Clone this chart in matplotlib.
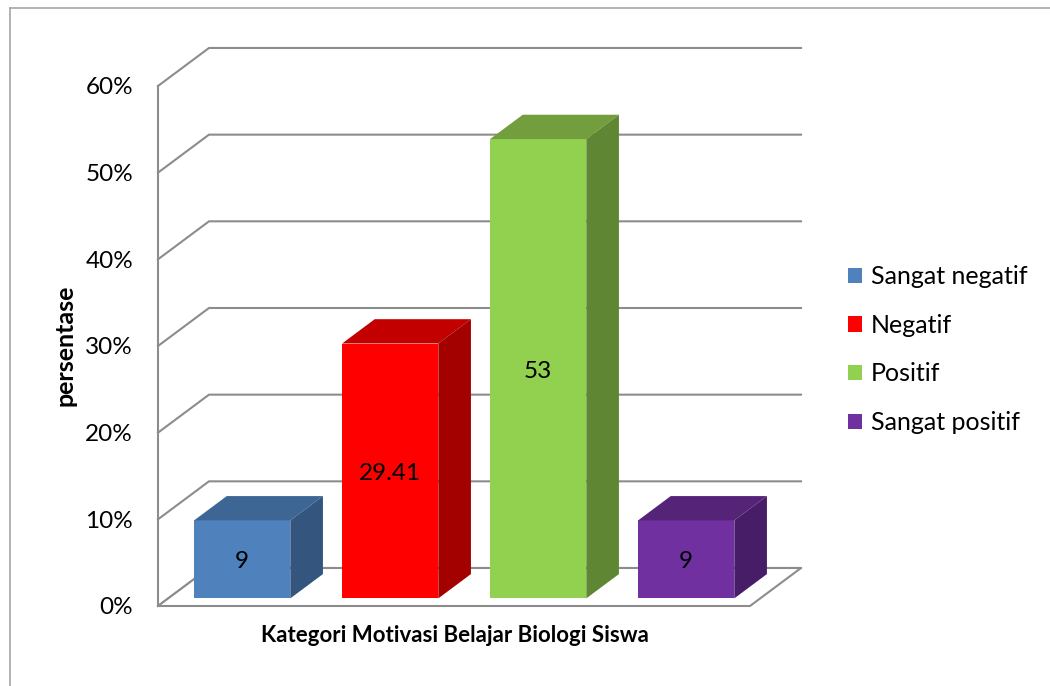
import matplotlib
matplotlib.use('Agg')
import matplotlib.pyplot as plt
from matplotlib.patches import Polygon, Patch
from matplotlib.lines import Line2D

# ---------------- data ----------------
categories = ['Sangat negatif', 'Negatif', 'Positif', 'Sangat positif']
values = [9, 29.41, 53, 9]
value_labels = ['9', '29.41', '53', '9']
yticks = [0, 10, 20, 30, 40, 50, 60]
ytick_labels = ['0%', '10%', '20%', '30%', '40%', '50%', '60%']
x_title = 'Kategori Motivasi Belajar Biologi Siswa'
y_title = 'persentase'

front_colors = ['#4F81BD', '#FF0000', '#92D050', '#7030A0']
top_colors = ['#3E6695', '#C20000', '#729E3E', '#552479']
side_colors = ['#34557D', '#A30000', '#5F8733', '#481D68']

# ---------------- style ----------------
plt.rcParams['font.family'] = ['Lato', 'DejaVu Sans']
FS = 17.5
GRID = '#8C8C8C'

W, H = 1050, 686
fig = plt.figure(figsize=(W / 100, H / 100), dpi=100)

# layout (pixels) used to place the plotting area
px_per_cat, x0px = 148.0, 158.0
px_per_pct, y0px = 8.667, 606.0
ax_l, ax_r, ax_t, ax_b = 100, 840, 30, 620
ax = fig.add_axes([ax_l / W, 1 - ax_b / H, (ax_r - ax_l) / W, (ax_b - ax_t) / H])
ax.set_xlim((ax_l - x0px) / px_per_cat, (ax_r - x0px) / px_per_cat)
ax.set_ylim((y0px - ax_b) / px_per_pct, (y0px - ax_t) / px_per_pct)
ax.patch.set_alpha(0)

# oblique depth offset (in data units)
DX = 51.0 / px_per_cat
DY = 38.0 / px_per_pct
n = len(categories)

# back wall gridlines
for t in yticks:
    ax.add_line(Line2D([0, DX, n + DX], [t, t + DY, t + DY], color=GRID, lw=1.5,
                       zorder=1, solid_joinstyle='miter'))

# floor
ax.add_patch(Polygon([(0, 0), (n, 0), (n + DX, DY), (DX, DY)], closed=True,
                     facecolor='white', edgecolor=GRID, lw=1.5, zorder=1.5,
                     joinstyle='miter'))

# left (front) axis
for s in ['top', 'right', 'bottom']:
    ax.spines[s].set_visible(False)
ax.spines['left'].set_position(('data', 0))
ax.spines['left'].set_bounds(0, yticks[-1])
ax.spines['left'].set_color(GRID)
ax.spines['left'].set_linewidth(1.5)
ax.spines['left'].set_zorder(2)
ax.set_yticks(yticks)
ax.set_yticklabels(ytick_labels, fontsize=FS)
ax.tick_params(axis='y', length=0, pad=18)
ax.set_xticks([])

# 3D bars
bw = 0.65
d0, d1 = 0.20, 0.84
bdx = (d1 - d0) * DX
bdy = (d1 - d0) * DY
for i, v in enumerate(values):
    xl = i + 0.5 - bw / 2 + d0 * DX
    xr = xl + bw
    yb = d0 * DY
    yt = yb + v
    ax.add_patch(Polygon([(xl, yb), (xr, yb), (xr, yt), (xl, yt)], closed=True,
                         facecolor=front_colors[i], edgecolor='none', zorder=5))
    ax.add_patch(Polygon([(xl, yt), (xr, yt), (xr + bdx, yt + bdy), (xl + bdx, yt + bdy)],
                         closed=True, facecolor=top_colors[i], edgecolor='none', zorder=5))
    ax.add_patch(Polygon([(xr, yb), (xr + bdx, yb + bdy), (xr + bdx, yt + bdy), (xr, yt)],
                         closed=True, facecolor=side_colors[i], edgecolor='none', zorder=5))
    ax.text((xl + xr) / 2, yb + v / 2 - 0.3, value_labels[i], ha='center', va='center',
            fontsize=FS, color='black', zorder=6)

# titles
fig.text(455 / W, 1 - 636 / H, x_title, ha='center', va='center', fontsize=16,
         fontweight='bold')
fig.text(65 / W, 1 - 345 / H, y_title, ha='center', va='center', rotation=90,
         fontsize=18, fontweight='bold')

# legend
handles = [Patch(facecolor=c, edgecolor='none') for c in front_colors]
fig.legend(handles, categories, loc='upper left', bbox_to_anchor=(848 / W, 1 - 265 / H),
           frameon=False, fontsize=18, handlelength=0.56, handleheight=0.56,
           handletextpad=0.35, labelspacing=1.03, borderpad=0, borderaxespad=0)

# outer frame (top and left edges visible)
fig.add_artist(Line2D([10 / W, 10 / W], [0, 1 - 8 / H], transform=fig.transFigure,
                      color='#A6A6A6', lw=1.2))
fig.add_artist(Line2D([10 / W, 1], [1 - 8 / H, 1 - 8 / H], transform=fig.transFigure,
                      color='#A6A6A6', lw=1.2))

fig.savefig('out.png', dpi=100, facecolor='white')
